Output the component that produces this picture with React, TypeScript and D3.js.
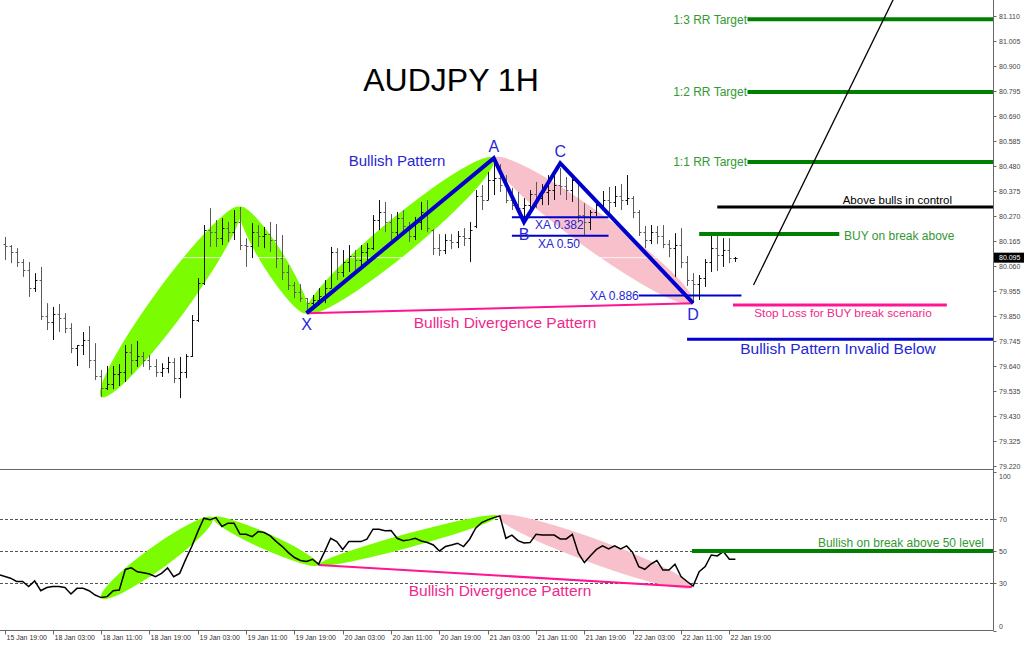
import React from 'react';
import * as d3 from 'd3';

// ---------- DATA ----------
const highs = [80.182, 80.148, 80.135, 80.089, 80.077, 80.030, 80.056, 79.904, 79.888, 79.900,
  79.862, 79.820, 79.728, 79.783, 79.808, 79.736, 79.623, 79.640, 79.640, 79.648,
  79.728, 79.732, 79.745, 79.699, 79.686, 79.669, 79.652, 79.678, 79.673, 79.678,
  79.690, 79.854, 80.009, 80.232, 80.303, 80.253, 80.261, 80.245, 80.295, 80.308,
  80.177, 80.240, 80.232, 80.224, 80.245, 80.236, 80.190, 80.064, 79.993, 79.984,
  79.925, 79.938, 79.967, 80.001, 80.140, 80.135, 80.127, 80.148, 80.127, 80.148,
  80.156, 80.274, 80.337, 80.329, 80.278, 80.287, 80.295, 80.245, 80.266, 80.329,
  80.337, 80.215, 80.194, 80.194, 80.194, 80.207, 80.219, 80.245, 80.379, 80.400,
  80.455, 80.513, 80.488, 80.442, 80.388, 80.371, 80.345, 80.379, 80.413, 80.404,
  80.442, 80.455, 80.471, 80.434, 80.442, 80.421, 80.324, 80.295, 80.337, 80.375,
  80.392, 80.396, 80.404, 80.442, 80.354, 80.295, 80.228, 80.232, 80.228, 80.232,
  80.169, 80.198, 80.219, 80.102, 80.030, 80.022, 80.089, 80.190, 80.186, 80.177,
  80.177, 80.098];
const lows = [80.085, 80.072, 80.056, 80.014, 79.930, 79.951, 79.833, 79.791, 79.749, 79.783,
  79.778, 79.694, 79.640, 79.686, 79.631, 79.581, 79.510, 79.539, 79.543, 79.556,
  79.573, 79.606, 79.636, 79.636, 79.623, 79.594, 79.594, 79.610, 79.568, 79.505,
  79.589, 79.678, 79.825, 79.980, 80.140, 80.140, 80.148, 80.161, 80.169, 80.127,
  80.056, 80.093, 80.140, 80.135, 80.119, 80.051, 80.001, 79.959, 79.925, 79.909,
  79.862, 79.875, 79.896, 79.904, 79.967, 80.001, 80.014, 80.035, 80.030, 80.056,
  80.077, 80.127, 80.211, 80.202, 80.169, 80.177, 80.194, 80.161, 80.169, 80.211,
  80.202, 80.106, 80.102, 80.110, 80.131, 80.135, 80.144, 80.077, 80.219, 80.295,
  80.337, 80.358, 80.371, 80.324, 80.295, 80.278, 80.245, 80.282, 80.303, 80.316,
  80.316, 80.337, 80.358, 80.337, 80.329, 80.245, 80.190, 80.211, 80.270, 80.303,
  80.278, 80.308, 80.295, 80.316, 80.261, 80.186, 80.135, 80.152, 80.152, 80.135,
  80.097, 80.014, 80.051, 79.976, 79.904, 79.917, 79.972, 80.035, 80.039, 80.056,
  80.072, 80.077];
const opens = [80.152, 80.144, 80.119, 80.077, 80.043, 79.967, 80.001, 79.850, 79.825, 79.858,
  79.841, 79.799, 79.715, 79.728, 79.749, 79.665, 79.598, 79.547, 79.564, 79.606,
  79.615, 79.699, 79.665, 79.682, 79.665, 79.640, 79.615, 79.631, 79.657, 79.589,
  79.615, 79.682, 79.833, 79.988, 80.211, 80.202, 80.177, 80.219, 80.202, 80.245,
  80.148, 80.144, 80.202, 80.186, 80.194, 80.169, 80.093, 80.035, 79.980, 79.951,
  79.925, 79.904, 79.917, 79.934, 79.967, 80.119, 80.035, 80.077, 80.102, 80.085,
  80.119, 80.135, 80.253, 80.287, 80.245, 80.202, 80.261, 80.228, 80.186, 80.245,
  80.287, 80.211, 80.135, 80.127, 80.169, 80.161, 80.186, 80.177, 80.228, 80.354,
  80.337, 80.421, 80.429, 80.400, 80.337, 80.316, 80.303, 80.316, 80.362, 80.345,
  80.371, 80.379, 80.400, 80.396, 80.379, 80.421, 80.274, 80.245, 80.287, 80.316,
  80.337, 80.329, 80.354, 80.337, 80.345, 80.287, 80.202, 80.169, 80.202, 80.186,
  80.152, 80.135, 80.148, 80.077, 80.001, 79.984, 80.009, 80.077, 80.135, 80.106,
  80.127, 80.093];
const closes = [80.144, 80.119, 80.077, 80.043, 79.967, 80.001, 79.850, 79.825, 79.858, 79.841,
  79.799, 79.715, 79.728, 79.749, 79.665, 79.598, 79.547, 79.564, 79.606, 79.615,
  79.699, 79.665, 79.682, 79.665, 79.640, 79.615, 79.631, 79.657, 79.589, 79.615,
  79.682, 79.833, 79.988, 80.211, 80.202, 80.177, 80.219, 80.202, 80.245, 80.148,
  80.144, 80.202, 80.186, 80.194, 80.169, 80.093, 80.035, 79.980, 79.951, 79.925,
  79.904, 79.917, 79.934, 79.967, 80.119, 80.035, 80.077, 80.102, 80.085, 80.119,
  80.135, 80.253, 80.287, 80.245, 80.202, 80.261, 80.228, 80.186, 80.245, 80.287,
  80.219, 80.135, 80.127, 80.169, 80.161, 80.186, 80.177, 80.211, 80.354, 80.337,
  80.421, 80.429, 80.400, 80.337, 80.316, 80.303, 80.316, 80.362, 80.345, 80.371,
  80.379, 80.400, 80.396, 80.379, 80.421, 80.274, 80.245, 80.287, 80.316, 80.337,
  80.329, 80.354, 80.337, 80.345, 80.287, 80.202, 80.169, 80.202, 80.186, 80.152,
  80.135, 80.148, 80.077, 80.001, 79.984, 80.009, 80.077, 80.135, 80.106, 80.127,
  80.093, 80.095];
const rsiValues = [35, 32.9, 30.8, 30.8, 27.6, 31.2, 25, 27, 27.6, 27.6,
  27, 23, 26.5, 26.5, 25, 22.3, 20.7, 21.3, 25, 25.4,
  38.4, 39.4, 36.9, 36.3, 35.5, 33.8, 35.9, 39.4, 33.8, 35.9,
  44.7, 52.8, 62.2, 70.6, 69.6, 71, 65.4, 67.5, 67.5, 60.5,
  60.5, 59, 62.2, 61.6, 59.5, 55.9, 52.8, 49, 45.9, 44,
  43.4, 44.8, 41.7, 49.6, 58, 55.9, 51, 55.9, 55.9, 55.9,
  57.4, 63.7, 63.7, 62.7, 62.9, 58, 56.5, 57, 58, 56.3,
  55.3, 53.8, 50, 52.8, 53.8, 54.9, 52.8, 57.4, 64.3, 67.9,
  69.6, 71, 72.1, 58, 60, 56.5, 55, 55.3, 60.5, 60,
  60, 60, 57.6, 57.6, 60.5, 48.6, 42.7, 47, 51, 53.2,
  51.3, 53.2, 51.3, 53.2, 49, 40.2, 38.5, 41.7, 44, 38,
  38, 41.7, 33.9, 30.8, 28, 37, 40.2, 47.5, 46.9, 49.6,
  44.8, 44.8];

const priceTicks = ['81.110', '81.005', '80.900', '80.795', '80.690', '80.585', '80.480', '80.375', '80.270',
  '80.165', '80.060', '79.955', '79.850', '79.745', '79.640', '79.535', '79.430', '79.325', '79.220'];
const timeLabels = ['15 Jan 19:00', '18 Jan 03:00', '18 Jan 11:00', '18 Jan 19:00', '19 Jan 03:00', '19 Jan 11:00',
  '19 Jan 19:00', '20 Jan 03:00', '20 Jan 11:00', '20 Jan 19:00', '21 Jan 03:00', '21 Jan 11:00',
  '21 Jan 19:00', '22 Jan 03:00', '22 Jan 11:00', '22 Jan 19:00'];
const rsiTicks = [100, 70, 50, 30, 0];
const rsiLevels = [70, 50, 30];

// harmonic pattern points (bar index, price)
const patternLabels = ['X', 'A', 'B', 'C', 'D'];
const patternBars = [50, 81, 86, 92, 114];
const patternPrices = [79.862, 80.513, 80.245, 80.492, 79.904];
const fibRatios = ['0.382', '0.50', '0.886'];

// highlighted swings (bar, price) pairs
const greenSwingBars = [16, 39, 50, 81];
const greenSwingPrices = [79.510, 80.308, 79.862, 80.513];
const pinkSwingBars = [81, 114];
const pinkSwingPrices = [80.513, 79.904];
const rsiGreenBars = [16, 34.5, 52, 81.7];
const rsiGreenValues = [20.4, 71, 41.2, 72];
const rsiPinkBars = [81.7, 113.8];
const rsiPinkValues = [72, 27.4];

// trade levels
const target3 = 81.096, target2 = 80.791, target1 = 80.497;
const bullsLevel = 80.308, buyLevel = 80.194, stopLevel = 79.896, invalidLevel = 79.752;
const currentPrice = 80.095;
const rsiTrigger = 50;
const trendBars = [124, 147.9];
const trendPrices = [79.980, 81.219];

// ---------- LAYOUT ----------
const W = 1024, H = 645;
const AX = 993.5;
const MAIN_BOTTOM = 469.5;
const RSI_TOP = 471.5, RSI_BOTTOM = 630.5;

const GREEN_BAND = '#7CFC00';
const PINK_BAND = '#F8C0CB';
const BLUE = '#0000CC';
const BLUE_TXT = '#2626D6';
const PINK = '#FF1493';
const PINK_TXT = '#F0288C';
const GREEN = '#008000';
const GREEN_TXT = '#339933';
const FONT = '"Liberation Sans", Arial, sans-serif';

function Lens({ x1, y1, x2, y2, w, fill }: any) {
  const cx = (x1 + x2) / 2, cy = (y1 + y2) / 2;
  const rx = Math.hypot(x2 - x1, y2 - y1) / 2;
  const ang = (Math.atan2(y2 - y1, x2 - x1) * 180) / Math.PI;
  return <ellipse cx={cx} cy={cy} rx={rx} ry={w / 2} fill={fill} transform={`rotate(${ang} ${cx} ${cy})`} />;
}

export default function App() {
  const x = d3.scaleLinear().domain([0, 121]).range([4.5, 735.4]);
  const y = d3.scaleLinear().domain([79.22, 81.11]).range([466, 16]);
  const yr = d3.scaleLinear().domain([0, 100]).range([RSI_BOTTOM, RSI_TOP]);

  const bars = highs.map((h, i) => ({ i, h, l: lows[i], o: opens[i], c: closes[i] }));
  const rsiLine = d3.line<number>().x((_, i) => (i === 0 ? 0 : x(i))).y((v) => yr(v))(rsiValues) || '';
  const pattern = d3.line<number>().x((b) => x(b)).y((_, i) => y(patternPrices[i]))(patternBars) || '';

  const X = patternPrices[0], A = patternPrices[1];
  const fibPrice = (r: string) => A - parseFloat(r) * (A - X);

  const greenWidths = [34, 23, 36];
  const rsiGreenWidths = [23, 16, 14];

  const txt = (props: any, s: string) => <text fontFamily={FONT} {...props}>{s}</text>;

  return (
    <svg width={W} height={H} style={{ position: 'absolute', left: 0, top: 0, background: '#fff' }}>
      <defs>
        <clipPath id="mainClip"><rect x={0} y={0} width={AX} height={MAIN_BOTTOM} /></clipPath>
        <clipPath id="rsiClip"><rect x={0} y={RSI_TOP - 1} width={AX} height={RSI_BOTTOM - RSI_TOP + 1} /></clipPath>
      </defs>
      <rect x={0} y={0} width={W} height={H} fill="#fff" />

      {/* ---- main panel ---- */}
      <g clipPath="url(#mainClip)">
        {greenSwingBars.slice(0, -1).map((b, k) => (
          <Lens key={'gb' + k} x1={x(b)} y1={y(greenSwingPrices[k])} x2={x(greenSwingBars[k + 1])}
            y2={y(greenSwingPrices[k + 1])} w={greenWidths[k]} fill={GREEN_BAND} />
        ))}
        <Lens x1={x(pinkSwingBars[0])} y1={y(pinkSwingPrices[0])} x2={x(pinkSwingBars[1])}
          y2={y(pinkSwingPrices[1])} w={36} fill={PINK_BAND} />
        {/* bid line */}
        <line x1={0} x2={AX} y1={y(currentPrice)} y2={y(currentPrice)} stroke="#fff" strokeWidth={1} opacity={0.8} />

        {bars.map((b) => {
          const cx = Math.round(x(b.i)) + 0.5;
          const col = b.c >= b.o ? '#111' : '#5a5a5a';
          return (
            <g key={b.i} stroke={col} strokeWidth={1}>
              <line x1={cx} x2={cx} y1={y(b.h)} y2={y(b.l)} />
              <line x1={cx - 2} x2={cx} y1={Math.round(y(b.o)) + 0.5} y2={Math.round(y(b.o)) + 0.5} />
              <line x1={cx} x2={cx + 2} y1={Math.round(y(b.c)) + 0.5} y2={Math.round(y(b.c)) + 0.5} />
            </g>
          );
        })}

        {/* divergence line */}
        <line x1={x(patternBars[0])} y1={y(patternPrices[0])} x2={x(patternBars[4])} y2={y(patternPrices[4])}
          stroke={PINK} strokeWidth={2} />

        {/* fib lines */}
        {fibRatios.map((r, k) => {
          const p = fibPrice(r);
          const xs = k < 2 ? [84, 100] : [105, 122];
          return <line key={r} x1={x(xs[0])} x2={x(xs[1])} y1={y(p)} y2={y(p)} stroke={BLUE} strokeWidth={2} />;
        })}

        <path d={pattern} fill="none" stroke={BLUE} strokeWidth={4} strokeLinejoin="miter" />

        {/* trade levels */}
        {[target3, target2, target1].map((t) => (
          <line key={t} x1={x(123)} x2={AX} y1={y(t)} y2={y(t)} stroke={GREEN} strokeWidth={4} />
        ))}
        <line x1={x(118)} x2={AX} y1={y(bullsLevel)} y2={y(bullsLevel)} stroke="#000" strokeWidth={3} />
        <line x1={x(115)} x2={x(138.2)} y1={y(buyLevel)} y2={y(buyLevel)} stroke={GREEN} strokeWidth={4} />
        <line x1={x(120.6)} x2={x(156)} y1={y(stopLevel)} y2={y(stopLevel)} stroke={PINK} strokeWidth={3} />
        <line x1={x(113)} x2={AX} y1={y(invalidLevel)} y2={y(invalidLevel)} stroke={BLUE} strokeWidth={3} />

        <line x1={x(trendBars[0])} y1={y(trendPrices[0])} x2={x(trendBars[1])} y2={y(trendPrices[1])}
          stroke="#000" strokeWidth={1.3} />
      </g>

      {/* main labels */}
      {txt({ x: 451, y: 91, fontSize: 32, textAnchor: 'middle', fill: '#000' }, 'AUDJPY 1H')}
      {txt({ x: 397, y: 166, fontSize: 15, textAnchor: 'middle', fill: BLUE_TXT }, 'Bullish Pattern')}
      {patternLabels.map((l, k) => {
        const dy = [17, -6, 18, -6, 17][k];
        return <text key={l} x={x(patternBars[k])} y={y(patternPrices[k]) + dy} fontSize={16}
          fontFamily={FONT} textAnchor="middle" fill={BLUE_TXT}>{l}</text>;
      })}
      {txt({ x: 535, y: y(fibPrice('0.382')) + 12, fontSize: 12, fill: BLUE_TXT }, 'XA 0.382')}
      {txt({ x: 538, y: y(fibPrice('0.50')) + 12, fontSize: 12, fill: BLUE_TXT }, 'XA 0.50')}
      {txt({ x: x(105), y: y(fibPrice('0.886')) + 5, fontSize: 12, textAnchor: 'end', fill: BLUE_TXT }, 'XA 0.886')}
      {txt({ x: 505, y: 328, fontSize: 15.5, textAnchor: 'middle', fill: PINK_TXT }, 'Bullish Divergence Pattern')}

      {[['1:3 RR Target', target3], ['1:2 RR Target', target2], ['1:1 RR Target', target1]].map(([s, t]: any) => (
        <text key={s} x={747} y={y(t) + 4.5} fontSize={12} textAnchor="end" fontFamily={FONT} fill={GREEN_TXT}>{s}</text>
      ))}
      {txt({ x: 952, y: y(bullsLevel) - 2.5, fontSize: 11.5, textAnchor: 'end', fill: '#000' }, 'Above bulls in control')}
      {txt({ x: 844, y: y(buyLevel) + 5.5, fontSize: 12, fill: GREEN_TXT }, 'BUY on break above')}
      {txt({ x: 843, y: y(stopLevel) + 11.5, fontSize: 11.8, textAnchor: 'middle', fill: PINK_TXT }, 'Stop Loss for BUY break scenario')}
      {txt({ x: 838, y: y(invalidLevel) + 15, fontSize: 15.5, textAnchor: 'middle', fill: BLUE_TXT }, 'Bullish Pattern Invalid Below')}

      {/* ---- RSI panel ---- */}
      {rsiLevels.map((v) => (
        <line key={v} x1={0} x2={AX} y1={Math.round(yr(v)) + 0.5} y2={Math.round(yr(v)) + 0.5}
          stroke="#555" strokeWidth={1} strokeDasharray="3,2" />
      ))}
      <g clipPath="url(#rsiClip)">
        {rsiGreenBars.slice(0, -1).map((b, k) => (
          <Lens key={'rg' + k} x1={x(b)} y1={yr(rsiGreenValues[k])} x2={x(rsiGreenBars[k + 1])}
            y2={yr(rsiGreenValues[k + 1])} w={rsiGreenWidths[k]} fill={GREEN_BAND} />
        ))}
        <Lens x1={x(rsiPinkBars[0])} y1={yr(rsiPinkValues[0])} x2={x(rsiPinkBars[1])}
          y2={yr(rsiPinkValues[1])} w={24} fill={PINK_BAND} />
        <line x1={x(rsiGreenBars[2])} y1={yr(rsiGreenValues[2])} x2={x(rsiPinkBars[1])} y2={yr(rsiPinkValues[1])}
          stroke={PINK} strokeWidth={2} />
        <path d={rsiLine} fill="none" stroke="#000" strokeWidth={1.5} />
        <line x1={x(113.8)} x2={AX} y1={yr(rsiTrigger)} y2={yr(rsiTrigger)} stroke={GREEN} strokeWidth={4} />
      </g>
      {txt({ x: 500, y: 596, fontSize: 15.5, textAnchor: 'middle', fill: PINK_TXT }, 'Bullish Divergence Pattern')}
      {txt({ x: 984, y: 547, fontSize: 12, textAnchor: 'end', fill: GREEN_TXT }, 'Bullish on break above 50 level')}

      {/* ---- frames ---- */}
      <line x1={0} x2={AX} y1={MAIN_BOTTOM} y2={MAIN_BOTTOM} stroke="#666" strokeWidth={1} />
      <line x1={0} x2={AX} y1={RSI_BOTTOM} y2={RSI_BOTTOM} stroke="#666" strokeWidth={1} />
      <line x1={AX} x2={AX} y1={0} y2={RSI_BOTTOM} stroke="#666" strokeWidth={1} />

      {/* price axis */}
      {priceTicks.map((t) => {
        const yy = Math.round(y(parseFloat(t))) + 0.5;
        return (
          <g key={t}>
            <line x1={AX} x2={AX + 3} y1={yy} y2={yy} stroke="#666" />
            <text x={999} y={yy + 2.5} fontSize={7} fontFamily={FONT} fill="#444">{t}</text>
          </g>
        );
      })}
      <rect x={994} y={y(currentPrice) - 5} width={30} height={10} fill="#000" />
      <text x={999} y={y(currentPrice) + 2.5} fontSize={7} fontFamily={FONT} fill="#fff">{currentPrice.toFixed(3)}</text>

      {/* RSI axis */}
      {rsiTicks.map((v) => {
        const yy = Math.round(yr(v)) + 0.5;
        const ty = v === 100 ? yy + 6 : v === 0 ? yy - 3 : yy + 2.5;
        return (
          <g key={v}>
            <line x1={AX} x2={AX + 3} y1={yy} y2={yy} stroke="#666" />
            <text x={999} y={ty} fontSize={7} fontFamily={FONT} fill="#444">{v}</text>
          </g>
        );
      })}

      {/* time axis */}
      {timeLabels.map((t, k) => {
        const xx = Math.round(x(k * 8)) + 0.5;
        return (
          <g key={t}>
            <line x1={xx} x2={xx} y1={RSI_BOTTOM} y2={RSI_BOTTOM + 4} stroke="#666" />
            <text x={xx + 1} y={640} fontSize={7} fontFamily={FONT} fill="#333">{t}</text>
          </g>
        );
      })}
    </svg>
  );
}
